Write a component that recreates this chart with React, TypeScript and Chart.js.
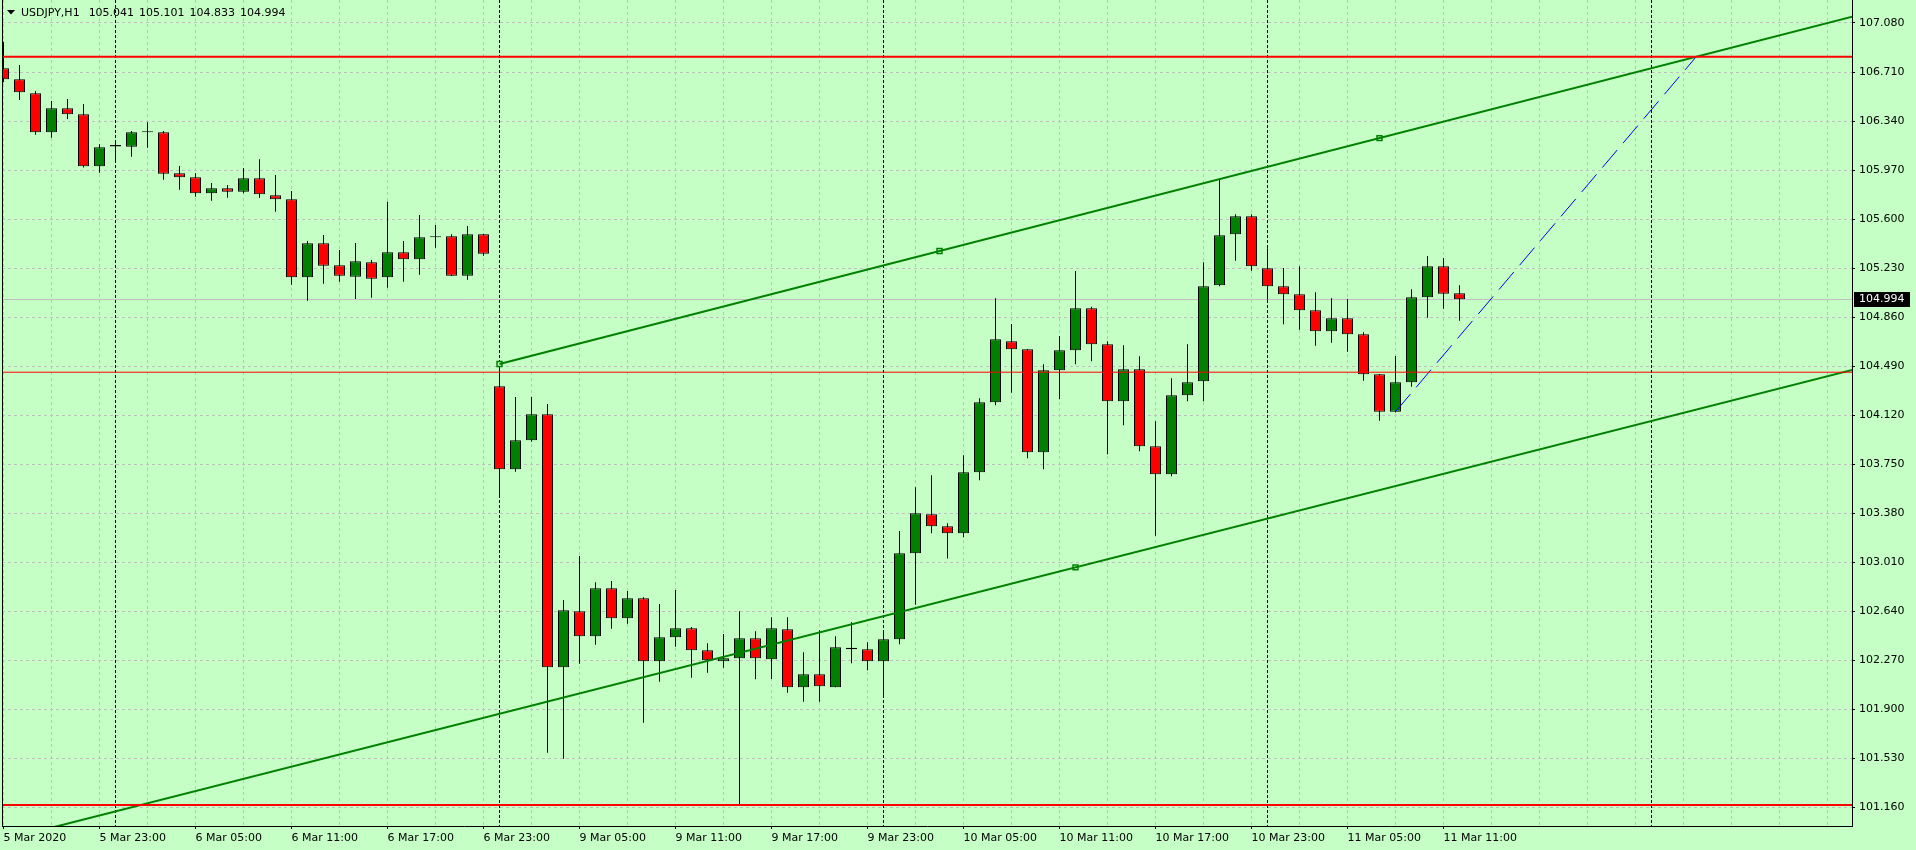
import React, { useEffect, useRef } from 'react';
import { Chart, registerables } from 'chart.js';

Chart.register(...registerables);

// ---------------- data ----------------
const SYMBOL = 'USDJPY,H1';

const opens = [
  106.738, 106.655, 106.549, 106.255, 106.436, 106.391, 105.998, 106.148, 106.146, 106.255,
  106.255, 105.946, 105.915, 105.795, 105.832, 105.807, 105.908, 105.779, 105.749, 105.161,
  105.417, 105.251, 105.165, 105.274, 105.161, 105.349, 105.296, 105.462, 105.470, 105.173,
  105.485, 104.338, 103.711, 103.930, 104.126, 102.217, 102.639, 102.451, 102.813, 102.587,
  102.738, 102.262, 102.443, 102.511, 102.345, 102.262, 102.285, 102.436, 102.277, 102.504,
  102.066, 102.164, 102.066, 102.352, 102.353, 102.262, 102.428, 103.077, 103.372, 103.281,
  103.228, 103.689, 104.217, 104.677, 104.617, 103.840, 104.459, 104.610, 104.927, 104.655,
  104.225, 104.466, 103.885, 103.674, 104.270, 104.376, 105.100, 105.485, 105.621, 105.229,
  105.093, 105.032, 104.911, 104.753, 104.851, 104.730, 104.428, 104.146, 104.368, 105.010,
  105.244, 105.041,
];
const highs = [
  106.939, 106.763, 106.567, 106.491, 106.506, 106.469, 106.164, 106.184, 106.265, 106.331,
  106.265, 106.001, 105.946, 105.872, 105.857, 105.986, 106.051, 105.933, 105.812, 105.435,
  105.480, 105.367, 105.419, 105.291, 105.731, 105.435, 105.631, 105.555, 105.485, 105.548,
  105.490, 104.506, 104.257, 104.257, 104.204, 102.725, 103.057, 102.858, 102.868, 102.793,
  102.745, 102.695, 102.800, 102.521, 102.398, 102.468, 102.639, 102.489, 102.594, 102.594,
  102.330, 102.496, 102.451, 102.556, 102.406, 102.481, 103.246, 103.575, 103.666, 103.304,
  103.817, 104.247, 105.002, 104.808, 104.620, 104.504, 104.717, 105.208, 104.939, 104.677,
  104.647, 104.564, 104.074, 104.398, 104.655, 105.274, 105.900, 105.636, 105.636, 105.379,
  105.231, 105.244, 105.047, 105.002, 104.997, 104.745, 104.430, 104.567, 105.070, 105.321,
  105.306, 105.101,
];
const lows = [
  106.632, 106.499, 106.237, 106.214, 106.355, 105.990, 105.950, 106.026, 106.071, 106.139,
  105.897, 105.822, 105.769, 105.739, 105.761, 105.795, 105.761, 105.656, 105.105, 104.984,
  105.112, 105.127, 104.997, 105.007, 105.082, 105.127, 105.180, 105.384, 105.170, 105.142,
  105.324, 103.505, 103.693, 103.920, 101.572, 101.527, 102.244, 102.387, 102.508, 102.546,
  101.799, 102.108, 102.372, 102.138, 102.176, 102.214, 101.185, 102.126, 102.129, 102.025,
  101.957, 101.957, 102.066, 102.247, 102.194, 102.005, 102.390, 102.689, 103.228, 103.037,
  103.198, 103.628, 104.194, 104.289, 103.794, 103.711, 104.240, 104.504, 104.526, 103.825,
  104.043, 103.847, 103.210, 103.658, 104.225, 104.225, 105.093, 105.286, 105.210, 104.991,
  104.806, 104.765, 104.644, 104.667, 104.599, 104.380, 104.078, 104.140, 104.335, 104.856,
  104.924, 104.833,
];
const closes = [
  106.655, 106.557, 106.255, 106.436, 106.391, 105.998, 106.142, 106.160, 106.255, 106.258,
  105.943, 105.915, 105.795, 105.832, 105.807, 105.908, 105.787, 105.749, 105.161, 105.417,
  105.248, 105.173, 105.281, 105.150, 105.349, 105.296, 105.462, 105.464, 105.173, 105.485,
  105.339, 103.711, 103.930, 104.126, 102.217, 102.647, 102.451, 102.813, 102.587, 102.738,
  102.262, 102.443, 102.511, 102.345, 102.270, 102.285, 102.436, 102.285, 102.511, 102.066,
  102.164, 102.073, 102.368, 102.364, 102.262, 102.428, 103.077, 103.379, 103.281, 103.228,
  103.689, 104.217, 104.693, 104.617, 103.840, 104.459, 104.610, 104.927, 104.655, 104.225,
  104.466, 103.885, 103.674, 104.270, 104.368, 105.093, 105.478, 105.621, 105.244, 105.093,
  105.032, 104.911, 104.753, 104.851, 104.730, 104.428, 104.146, 104.368, 105.010, 105.244,
  105.037, 104.994,
];

const xTickLabels = [
  '5 Mar 2020', '5 Mar 23:00', '6 Mar 05:00', '6 Mar 11:00', '6 Mar 17:00', '6 Mar 23:00',
  '9 Mar 05:00', '9 Mar 11:00', '9 Mar 17:00', '9 Mar 23:00', '10 Mar 05:00', '10 Mar 11:00',
  '10 Mar 17:00', '10 Mar 23:00', '11 Mar 05:00', '11 Mar 11:00',
];
const X_LABEL_STEP = 6;
const X_GRID_STEP = 3;

const yTicks = [
  107.08, 106.71, 106.34, 105.97, 105.6, 105.23, 104.86, 104.49, 104.12,
  103.75, 103.38, 103.01, 102.64, 102.27, 101.9, 101.53, 101.16,
];

const daySeparators = [7, 31, 55, 79, 103];

const levelPrices = [106.826, 104.444, 101.177];
const levelWidths = [2, 1, 2];

const upperTrend = [{ x: 31, y: 104.506 }, { x: 86, y: 106.211 }];
const lowerTrend = [{ x: -20, y: 100.3 }, { x: 154, y: 105.642 }];
const projection = [{ x: 87, y: 104.146 }, { x: 105.8, y: 106.826 }];

// axis ranges
const X_MIN = -0.09375;
const X_MAX = 115.53125;
const Y_MAX = 107.2536;
const Y_MIN = 101.0187;

// ---------------- styles ----------------
const BG = 'rgb(197,255,197)';
const GRID = 'rgb(192,192,192)';
const FONT = 'DejaVu Sans';
const BULL = '#008000';
const BEAR = '#ff0000';

function labelFor(v: number): string {
  if (v % X_LABEL_STEP !== 0) return '';
  const i = v / X_LABEL_STEP;
  return i >= 0 && i < xTickLabels.length ? xTickLabels[i] : '';
}

const mt4Plugin = {
  id: 'mt4',
  beforeDraw(chart: any) {
    const { ctx, width, height } = chart;
    ctx.save();
    ctx.fillStyle = BG;
    ctx.fillRect(0, 0, width, height);
    ctx.restore();
  },
  beforeDatasetsDraw(chart: any) {
    const { ctx, chartArea: a, scales } = chart;
    const xs = scales.x;
    const ys = scales.y;
    ctx.save();
    ctx.beginPath();
    ctx.rect(a.left, a.top, a.right - a.left, a.bottom - a.top);
    ctx.clip();
    // bid line
    const by = Math.round(ys.getPixelForValue(closes[closes.length - 1])) + 0.5;
    ctx.strokeStyle = GRID;
    ctx.lineWidth = 1;
    ctx.beginPath();
    ctx.moveTo(a.left, by);
    ctx.lineTo(a.right, by);
    ctx.stroke();
    // period separators
    ctx.strokeStyle = '#000';
    ctx.setLineDash([3, 2]);
    for (const d of daySeparators) {
      const px = Math.floor(xs.getPixelForValue(d)) + 0.5;
      ctx.beginPath();
      ctx.moveTo(px, a.top);
      ctx.lineTo(px, a.bottom);
      ctx.stroke();
    }
    ctx.restore();
  },
  afterDraw(chart: any) {
    const { ctx, chartArea: a, scales } = chart;
    const ys = scales.y;
    ctx.save();
    // left frame line
    ctx.strokeStyle = '#000';
    ctx.lineWidth = 1;
    ctx.beginPath();
    ctx.moveTo(a.left + 0.5, a.top);
    ctx.lineTo(a.left + 0.5, a.bottom);
    ctx.stroke();

    // bid price label
    const last = closes.length - 1;
    const by = Math.round(ys.getPixelForValue(closes[last])) + 0.5;
    ctx.fillStyle = '#000';
    ctx.fillRect(a.right + 2, by - 7.5, 56, 15);
    ctx.fillStyle = '#fff';
    ctx.font = `11px "${FONT}"`;
    ctx.textBaseline = 'middle';
    ctx.textAlign = 'left';
    ctx.fillText(closes[last].toFixed(3), a.right + 7, by);

    // header
    ctx.fillStyle = '#000';
    ctx.beginPath();
    ctx.moveTo(7, 10);
    ctx.lineTo(15, 10);
    ctx.lineTo(11, 14.5);
    ctx.closePath();
    ctx.fill();
    let hx = 21;
    const hy = 13;
    ctx.fillText(SYMBOL, hx, hy);
    hx += ctx.measureText(SYMBOL).width + 9;
    const vals = [opens[last], highs[last], lows[last], closes[last]];
    for (const v of vals) {
      const s = v.toFixed(3);
      ctx.fillText(s, hx, hy);
      hx += ctx.measureText(s).width + 5;
    }
    ctx.restore();
  },
};

function extendRay(p: { x: number; y: number }[], toX: number) {
  const slope = (p[1].y - p[0].y) / (p[1].x - p[0].x);
  return [p[0], { x: toX, y: p[0].y + slope * (toX - p[0].x) }];
}

export default function App() {
  const ref = useRef<HTMLCanvasElement | null>(null);

  useEffect(() => {
    if (!ref.current) return;
    const idx = opens.map((_, i) => i);
    const gridTicks: number[] = [];
    for (let v = 0; v <= X_MAX; v += X_GRID_STEP) gridTicks.push(v);

    const lineBase = {
      type: 'line' as const,
      pointRadius: 0,
      fill: false,
      tension: 0,
      clip: 0,
      order: 0,
    };

    const datasets: any[] = [
      {
        type: 'bar',
        label: 'wicks',
        data: idx.map((i) => ({ x: i, y: [lows[i], highs[i]] })),
        backgroundColor: '#000',
        borderWidth: 0,
        barThickness: 1,
        grouped: false,
        inflateAmount: 0,
        order: 3,
      },
      {
        type: 'bar',
        label: 'bodies',
        data: idx.map((i) => ({ x: i, y: [opens[i], closes[i]] })),
        backgroundColor: idx.map((i) => (closes[i] >= opens[i] ? BULL : BEAR)),
        borderColor: '#000',
        borderWidth: 1,
        borderSkipped: false,
        barThickness: 11,
        minBarLength: 1,
        grouped: false,
        inflateAmount: 0,
        order: 2,
      },
      ...levelPrices.map((p, k) => ({
        ...lineBase,
        label: 'level' + k,
        data: [{ x: X_MIN - 1, y: p }, { x: X_MAX + 1, y: p }],
        borderColor: BEAR,
        borderWidth: levelWidths[k],
      })),
      {
        ...lineBase,
        label: 'upper',
        data: extendRay(upperTrend, X_MAX + 1),
        borderColor: BULL,
        borderWidth: 2,
      },
      {
        ...lineBase,
        label: 'lower',
        data: lowerTrend,
        borderColor: BULL,
        borderWidth: 2,
      },
      {
        ...lineBase,
        label: 'projection',
        data: projection,
        borderColor: '#0000ff',
        borderWidth: 1,
        borderDash: [23, 9],
      },
      {
        type: 'line',
        label: 'anchors',
        showLine: false,
        clip: 0,
        data: [
          upperTrend[0],
          { x: (upperTrend[0].x + upperTrend[1].x) / 2, y: (upperTrend[0].y + upperTrend[1].y) / 2 },
          upperTrend[1],
          { x: (lowerTrend[0].x + lowerTrend[1].x) / 2, y: (lowerTrend[0].y + lowerTrend[1].y) / 2 },
        ],
        pointStyle: 'rect',
        pointRadius: 3.5,
        pointBackgroundColor: BG,
        pointBorderColor: BULL,
        pointBorderWidth: 1.5,
        order: 0,
      },
    ];

    const chart = new Chart(ref.current, {
      type: 'bar',
      data: { datasets },
      options: {
        responsive: false,
        animation: false,
        devicePixelRatio: 1,
        events: [],
        layout: { autoPadding: false, padding: { left: 2, top: 0, right: 0, bottom: 0 } },
        plugins: {
          legend: { display: false },
          tooltip: { enabled: false },
        },
        scales: {
          x: {
            type: 'linear',
            min: X_MIN,
            max: X_MAX,
            offset: false,
            afterBuildTicks: (s: any) => {
              s.ticks = gridTicks.map((v) => ({ value: v }));
            },
            afterFit: (s: any) => {
              s.height = 24;
              s.paddingLeft = 0;
              s.paddingRight = 0;
            },
            grid: {
              offset: false,
              color: GRID,
              lineWidth: 1,
              drawTicks: true,
              tickLength: 3,
              tickWidth: 1,
              tickColor: (c: any) => (c.tick && labelFor(c.tick.value) ? '#000' : 'rgba(0,0,0,0)'),
            },
            border: { display: true, color: '#000', width: 1, dash: [3, 3] },
            ticks: {
              autoSkip: false,
              maxRotation: 0,
              minRotation: 0,
              align: 'start',
              padding: 3,
              color: '#000',
              font: { family: FONT, size: 11 },
              callback: (v: any) => labelFor(Number(v)),
            },
          },
          y: {
            type: 'linear',
            position: 'right',
            min: Y_MIN,
            max: Y_MAX,
            beginAtZero: false,
            afterBuildTicks: (s: any) => {
              s.ticks = yTicks.map((v) => ({ value: v }));
            },
            afterFit: (s: any) => {
              s.width = 64;
              s.paddingTop = 0;
              s.paddingBottom = 0;
            },
            grid: {
              color: GRID,
              lineWidth: 1,
              drawTicks: true,
              tickLength: 3,
              tickColor: '#000',
            },
            border: { display: true, color: '#000', width: 1, dash: [3, 3] },
            ticks: {
              autoSkip: false,
              padding: 4,
              color: '#000',
              font: { family: FONT, size: 11 },
              callback: (v: any) => Number(v).toFixed(3),
            },
          },
        },
      } as any,
      plugins: [mt4Plugin],
    });
    return () => chart.destroy();
  }, []);

  return (
    <div style={{ position: 'fixed', left: 0, top: 0, width: 1916, height: 850, background: BG }}>
      <canvas ref={ref} width={1916} height={850} style={{ display: 'block', width: 1916, height: 850 }} />
    </div>
  );
}
